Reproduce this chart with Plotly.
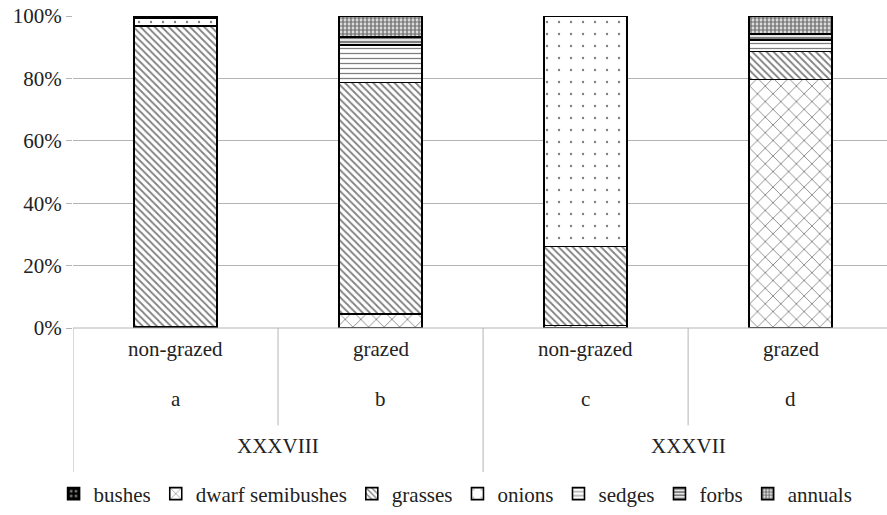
import plotly.graph_objects as go

# Share of plant groups (% of cover) per plot
bars = ["a", "b", "c", "d"]
treatment = ["non-grazed", "grazed", "non-grazed", "grazed"]
sites = ["XXXVIII", "XXXVII"]

bushes = [0.0, 0.0, 0.0, 0.0]
dwarf_semibushes = [0.3, 4.5, 0.8, 79.6]
grasses = [96.5, 74.2, 25.3, 9.0]
onions = [2.6, 0.0, 73.9, 0.0]
sedges = [0.0, 12.1, 0.0, 3.8]
forbs = [0.6, 2.5, 0.0, 1.9]
annuals = [0.0, 6.7, 0.0, 5.7]

y_ticks = [0, 20, 40, 60, 80, 100]
y_tick_text = [f"{v}%" for v in y_ticks]

FONT = "Times New Roman, Liberation Serif, DejaVu Serif, serif"
TXT = "#222222"

series = [
    ("bushes", bushes, dict(shape=".", fgcolor="white", bgcolor="black", size=6, solidity=0.25)),
    ("dwarf semibushes", dwarf_semibushes, dict(shape="x", fgcolor="black", bgcolor="white", size=11, solidity=0.15)),
    ("grasses", grasses, dict(shape="\\", fgcolor="black", bgcolor="white", size=5, solidity=0.35)),
    ("onions", onions, dict(shape=".", fgcolor="black", bgcolor="white", size=12, solidity=0.03)),
    ("sedges", sedges, dict(shape="-", fgcolor="black", bgcolor="white", size=5, solidity=0.25)),
    ("forbs", forbs, dict(shape="-", fgcolor="black", bgcolor="white", size=4, solidity=0.6)),
    ("annuals", annuals, dict(shape=".", fgcolor="black", bgcolor="white", size=4, solidity=0.7)),
]

x = list(range(len(bars)))
fig = go.Figure()
for name, vals, pat in series:
    fig.add_trace(go.Bar(
        x=x, y=vals, name=name, width=0.405,
        marker=dict(color="white", pattern=pat, line=dict(color="black", width=1.6)),
    ))

fig.update_layout(
    width=887, height=515,
    barmode="stack",
    paper_bgcolor="white", plot_bgcolor="white",
    margin=dict(l=73, r=0, t=16, b=185),
    font=dict(family=FONT, size=21, color=TXT),
    showlegend=True,
    legend=dict(orientation="h", x=0.47, xanchor="center",
                y=-0.532, yanchor="middle", traceorder="normal",
                font=dict(family=FONT, size=21, color=TXT)),
    xaxis=dict(range=[-0.5, 3.47], showticklabels=False, showgrid=False,
               zeroline=False, showline=False, ticks=""),
    yaxis=dict(range=[0, 100], tickvals=y_ticks, ticktext=y_tick_text,
               showgrid=True, gridcolor="#b4b4b4", gridwidth=1,
               zeroline=False, showline=False, ticks="outside",
               ticklen=6, tickcolor="#b4b4b4", tickfont=dict(family=FONT, size=21, color=TXT)),
)

plot_h = 314.0
def py(px):
    # pixel offset below the plot bottom -> paper coordinate
    return -px / plot_h

annotations = []
for i, (t, b) in enumerate(zip(treatment, bars)):
    annotations.append(dict(x=i, y=py(35), xref="x", yref="paper", text=t,
                            showarrow=False, font=dict(family=FONT, size=21, color=TXT)))
    annotations.append(dict(x=i, y=py(86), xref="x", yref="paper", text=b,
                            showarrow=False, font=dict(family=FONT, size=21, color=TXT)))
for j, s in enumerate(sites):
    annotations.append(dict(x=0.5 + 2 * j, y=py(133), xref="x", yref="paper", text=s,
                            showarrow=False, font=dict(family=FONT, size=21, color=TXT)))
fig.update_layout(annotations=annotations)

shapes = [dict(type="line", xref="paper", yref="paper", x0=0, x1=1, y0=0, y1=0,
               line=dict(color="#b4b4b4", width=1))]
for xv, depth in [(-0.5, 145), (0.5, 98), (1.5, 145), (2.5, 98)]:
    shapes.append(dict(type="line", xref="x", yref="paper", x0=xv, x1=xv,
                       y0=0, y1=py(depth), line=dict(color="#b4b4b4", width=1)))
fig.update_layout(shapes=shapes)

fig.write_html("out.html")
